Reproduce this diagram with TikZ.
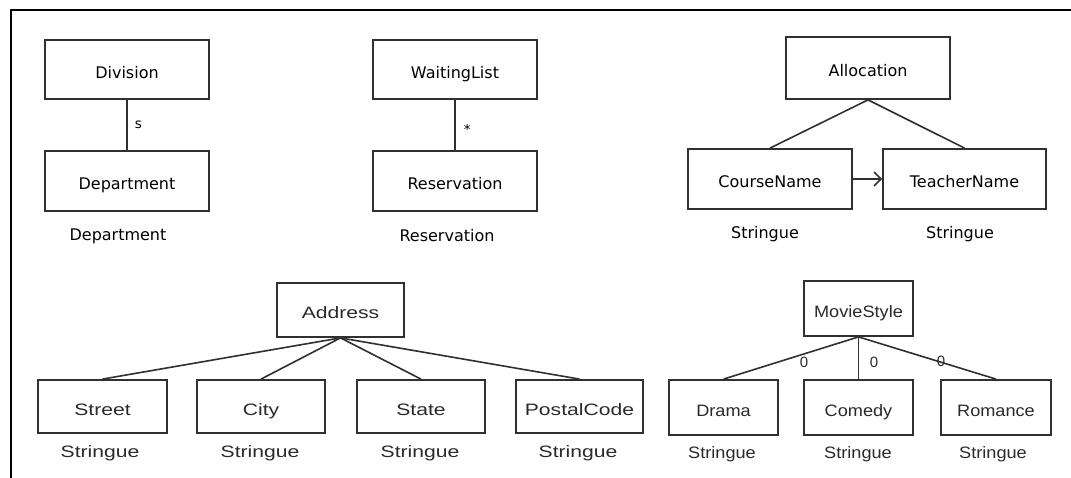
\documentclass[tikz,border=0pt]{standalone}
\usepackage{fontspec}
\usepackage{graphicx}
\usetikzlibrary{arrows.meta}
\newfontfamily\boxfont{DejaVu Sans}
\newfontfamily\attrfont{Liberation Sans}
\newcommand\widetxt[1]{\scalebox{1.28}[1]{#1}}
\newcommand\midtxt[1]{\scalebox{1.1}[1]{#1}}
\definecolor{edgegray}{HTML}{303030}
\definecolor{txtgray}{HTML}{2A2A2A}
\tikzset{
  classbox/.style={draw=edgegray, line width=1.8pt, rectangle, inner sep=0pt,
    minimum width=164pt, minimum height=59pt, text=black,
    text height=18pt, text depth=0pt,
    font=\boxfont\fontsize{16}{19}\selectfont},
  typelabel/.style={inner sep=0pt, text=black, font=\boxfont\fontsize{16}{19}\selectfont},
  attrbox/.style={draw=edgegray, line width=1.8pt, rectangle, inner sep=0pt,
    minimum width=128pt, minimum height=53pt, text=txtgray,
    text height=18pt, text depth=0pt,
    font=\attrfont\fontsize{16.5}{19}\selectfont},
  attrlabel/.style={inner sep=0pt, text=txtgray, font=\attrfont\fontsize{16.5}{19}\selectfont},
  multlabel/.style={inner sep=0pt, text=black, font=\boxfont\fontsize{13.5}{15}\selectfont},
  zerolabel/.style={inner sep=0pt, text=txtgray, font=\attrfont\fontsize{15}{17}\selectfont},
  link/.style={draw=edgegray, line width=1.6pt},
  frameline/.style={draw=black, line width=2.6pt}
}
\begin{document}
\begin{tikzpicture}[x=1pt,y=-1pt]
\useasboundingbox (0,0) rectangle (1071,478);

% outer frame (top and left edges)
\coordinate (fTL) at (11,10);
\coordinate (fTR) at (1071,10);
\coordinate (fBL) at (11,478);
\draw[frameline] (fTR) -- (fTL) -- (fBL);

% Division / Department
\node[classbox] (div) at (127,69.5) {Division};
\node[classbox, minimum height=60pt] (dept) at (127,181) {Department};
\node[typelabel] (deptT) at (118,236) {Department};
\draw[link] (div) -- node[multlabel, right=7pt] {s} (dept);

% WaitingList / Reservation
\node[classbox] (wl) at (455,69.5) {WaitingList};
\node[classbox, minimum height=60pt] (res) at (455,181) {Reservation};
\node[typelabel] (resT) at (447,236) {Reservation};
\draw[link] (wl) -- node[multlabel, right=8pt, yshift=-4pt] {*} (res);

% Allocation
\node[classbox, minimum height=62pt] (alloc) at (868,68) {Allocation};
\node[classbox, minimum height=60pt] (course) at (770,179) {CourseName};
\node[classbox, minimum width=163pt, minimum height=60pt] (teacher) at (964.5,179) {TeacherName};
\node[typelabel] (courseT) at (765,234) {Stringue};
\node[typelabel] (teacherT) at (960,234) {Stringue};
\draw[link] (alloc.south) -- (course.north);
\draw[link] (alloc.south) -- (teacher.north);
\draw[link, -{Straight Barb[length=7pt,width=14pt,line width=1.5pt]}] (course.east) -- (teacher.west);

% Address
\node[attrbox, minimum width=127pt, minimum height=54pt] (addr) at (340.5,310) {\widetxt{Address}};
\node[attrbox, minimum width=129pt] (street) at (102.5,406.5) {\widetxt{Street}};
\node[attrbox] (city) at (261,406.5) {\widetxt{City}};
\node[attrbox] (state) at (421,406.5) {\widetxt{State}};
\node[attrbox, minimum width=127pt] (postal) at (579.5,406.5) {\widetxt{PostalCode}};
\node[attrlabel] (streetT) at (100,453) {\widetxt{Stringue}};
\node[attrlabel] (cityT) at (260,453) {\widetxt{Stringue}};
\node[attrlabel] (stateT) at (420,453) {\widetxt{Stringue}};
\node[attrlabel] (postalT) at (578,453) {\widetxt{Stringue}};
\foreach \child in {street,city,state,postal}
  \draw[link] (addr.south) -- (\child.north);

% MovieStyle
\node[attrbox, minimum width=109pt, minimum height=55pt] (movie) at (858.5,308.5) {\midtxt{MovieStyle}};
\node[attrbox, minimum width=109pt, minimum height=55pt] (drama) at (723.5,407.5) {\midtxt{Drama}};
\node[attrbox, minimum width=109pt, minimum height=55pt] (comedy) at (858.5,407.5) {\midtxt{Comedy}};
\node[attrbox, minimum width=110pt, minimum height=55pt] (romance) at (996,407.5) {\midtxt{Romance}};
\node[attrlabel] (dramaT) at (722,454) {\midtxt{Stringue}};
\node[attrlabel] (comedyT) at (858,454) {\midtxt{Stringue}};
\node[attrlabel] (romanceT) at (993,454) {\midtxt{Stringue}};
\draw[link] (movie.south) -- (drama.north);
\draw[link] (movie.south) -- (comedy.north);
\draw[link] (movie.south) -- (romance.north);
\node[zerolabel] (z1) at (804,362) {0};
\node[zerolabel] (z2) at (874,362) {0};
\node[zerolabel] (z3) at (941,361) {0};
\end{tikzpicture}
\end{document}
